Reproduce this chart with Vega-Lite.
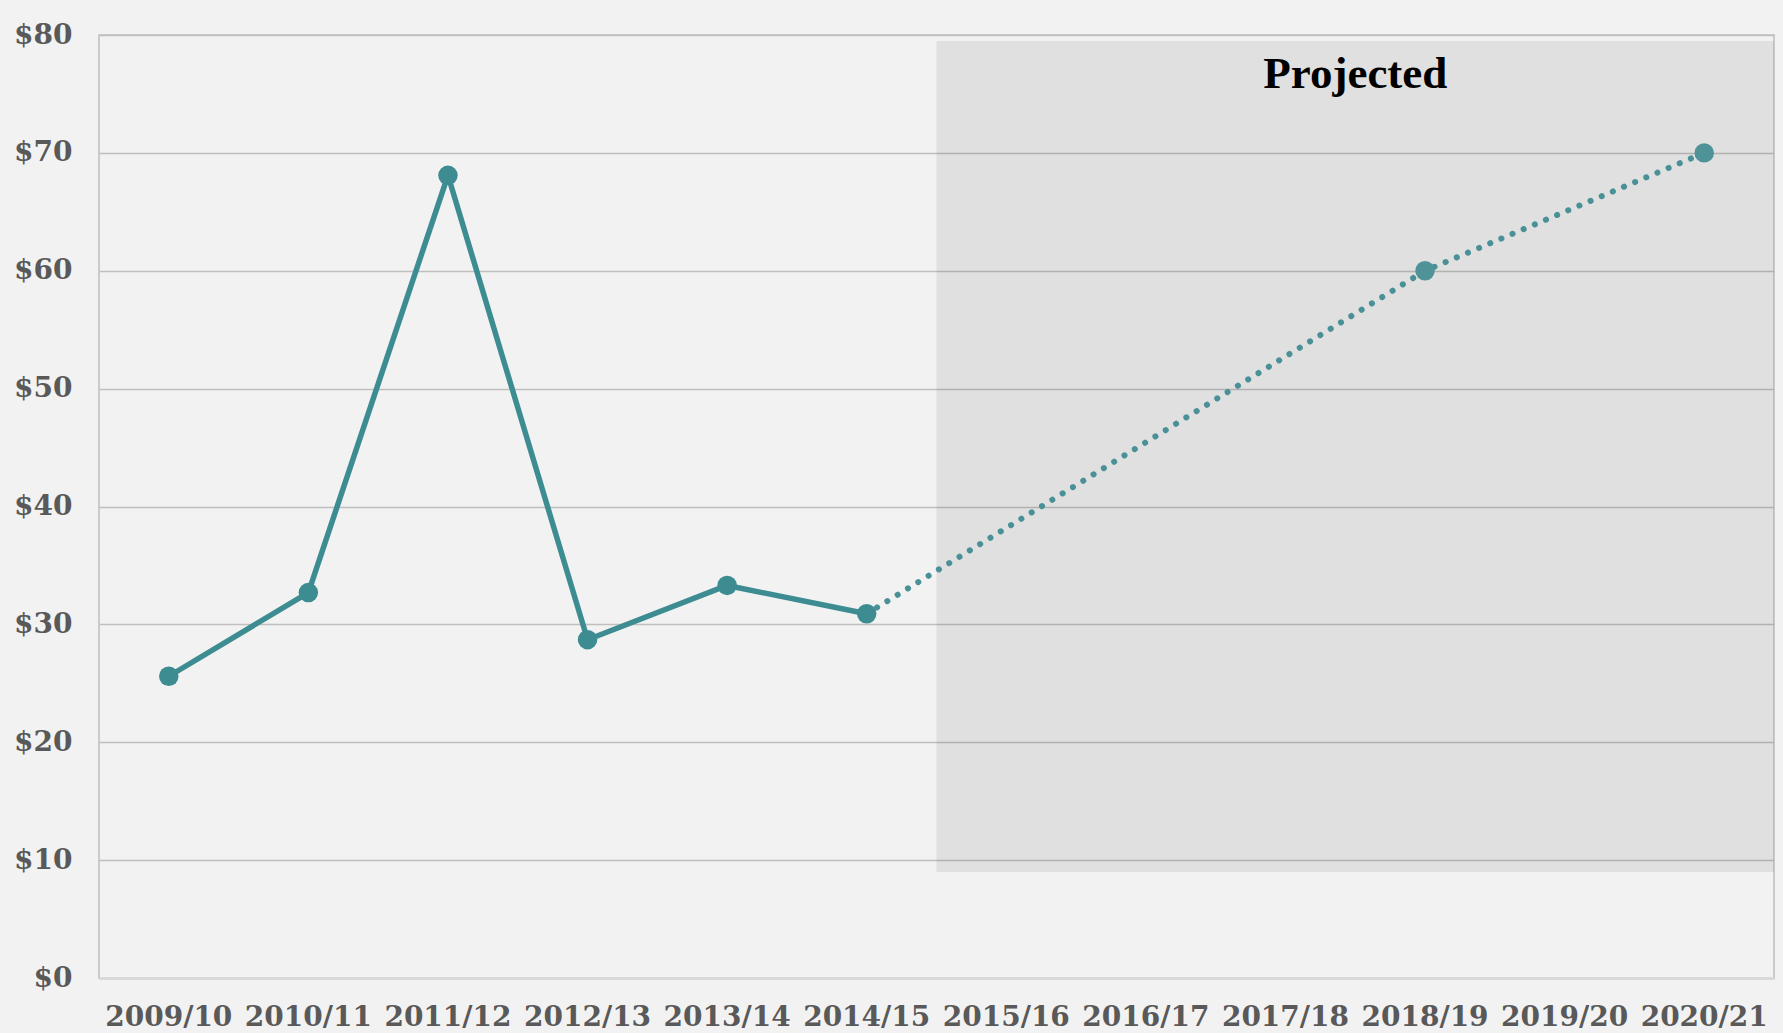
{
  "$schema": "https://vega.github.io/schema/vega-lite/v6.json",
  "width": 1675,
  "height": 943,
  "autosize": {"type": "none"},
  "padding": {"left": 99, "top": 35, "right": 9, "bottom": 55},
  "background": "#f2f2f2",
  "config": {
    "view": {"stroke": "#bfbfbf", "strokeWidth": 1.5, "fill": "#f2f2f2"}
  },
  "datasets": {
    "actual": [
      {"year": "2009/10", "value": 25.6},
      {"year": "2010/11", "value": 32.7},
      {"year": "2011/12", "value": 68.1},
      {"year": "2012/13", "value": 28.7},
      {"year": "2013/14", "value": 33.3},
      {"year": "2014/15", "value": 30.9}
    ],
    "projected": [
      {"year": "2014/15", "value": 30.9},
      {"year": "2018/19", "value": 60.0},
      {"year": "2020/21", "value": 70.0}
    ],
    "shade": [
      {"start": "2015/16", "end": "2020/21", "low": 9, "high": 79.5, "label": "Projected"}
    ]
  },
  "encoding": {
    "x": {
      "field": "year",
      "type": "ordinal",
      "scale": {
        "type": "band",
        "paddingInner": 0,
        "paddingOuter": 0,
        "domain": ["2009/10", "2010/11", "2011/12", "2012/13", "2013/14", "2014/15", "2015/16", "2016/17", "2017/18", "2018/19", "2019/20", "2020/21"]
      },
      "axis": {
        "title": null,
        "labelAngle": 0,
        "ticks": false,
        "grid": false,
        "domainColor": "#d9d9d9",
        "domainWidth": 3,
        "labelFont": "DejaVu Serif",
        "labelFontWeight": "bold",
        "labelFontSize": 28,
        "labelColor": "#595959",
        "labelPadding": 25
      }
    },
    "y": {
      "field": "value",
      "type": "quantitative",
      "scale": {"domain": [0, 80], "nice": false},
      "axis": {
        "title": null,
        "values": [0, 10, 20, 30, 40, 50, 60, 70, 80],
        "labelExpr": "'$' + datum.value",
        "domain": false,
        "ticks": false,
        "grid": true,
        "gridColor": "#bfbfbf",
        "gridWidth": 1.5,
        "labelFont": "DejaVu Serif",
        "labelFontWeight": "bold",
        "labelFontSize": 28,
        "labelColor": "#595959",
        "labelPadding": 27
      }
    }
  },
  "layer": [
    {
      "data": {"name": "shade"},
      "mark": {"type": "rect", "color": "#000000", "opacity": 0.07},
      "encoding": {
        "x": {"field": "start", "type": "ordinal", "bandPosition": 0},
        "x2": {"field": "end", "bandPosition": 1},
        "y": {"field": "low", "type": "quantitative"},
        "y2": {"field": "high"}
      }
    },
    {
      "data": {"name": "shade"},
      "mark": {"type": "text", "font": "Liberation Serif", "fontWeight": "bold", "fontSize": 45, "fill": "#000000", "opacity": 1, "align": "center", "baseline": "middle", "dx": 418.8, "dy": 33},
      "encoding": {
        "x": {"field": "start", "type": "ordinal", "bandPosition": 0},
        "y": {"field": "high", "type": "quantitative"},
        "text": {"field": "label", "type": "nominal"}
      }
    },
    {
      "data": {"name": "actual"},
      "mark": {"type": "line", "color": "#3d8c92", "strokeWidth": 5.5},
      "encoding": {"x": {"field": "year", "type": "ordinal", "bandPosition": 0.5}}
    },
    {
      "data": {"name": "projected"},
      "mark": {"type": "line", "color": "#4a9197", "strokeWidth": 6, "strokeDash": [0.1, 12], "strokeCap": "round"},
      "encoding": {"x": {"field": "year", "type": "ordinal", "bandPosition": 0.5}}
    },
    {
      "data": {"name": "actual"},
      "mark": {"type": "point", "filled": true, "opacity": 1, "color": "#3d8c92", "size": 380},
      "encoding": {"x": {"field": "year", "type": "ordinal", "bandPosition": 0.5}}
    },
    {
      "data": {"name": "projected"},
      "transform": [{"filter": "datum.year != '2014/15'"}],
      "mark": {"type": "point", "filled": true, "opacity": 1, "color": "#4f9399", "size": 380},
      "encoding": {"x": {"field": "year", "type": "ordinal", "bandPosition": 0.5}}
    }
  ]
}
